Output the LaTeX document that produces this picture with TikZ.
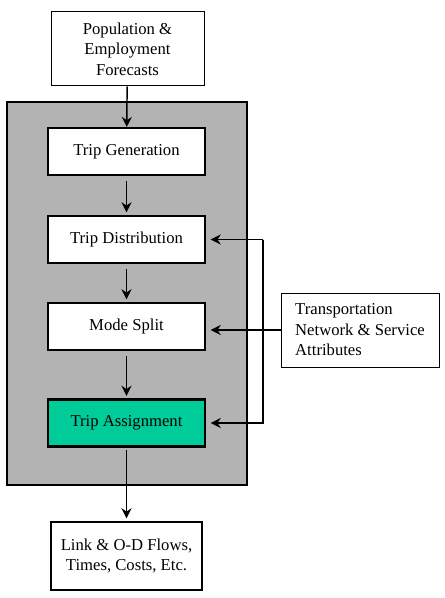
\documentclass[tikz,border=0pt]{standalone}
\usepackage{fontspec}
\setmainfont{Liberation Serif}
\usetikzlibrary{arrows.meta}
\definecolor{panelgray}{HTML}{B3B3B3}
\definecolor{assigngreen}{HTML}{00CC99}
\tikzset{
  inbox/.style={draw, line width=0.75pt, fill=white, inner sep=0pt, align=center},
  stepbox/.style={draw, line width=1.6pt, fill=white, inner sep=0pt, align=center,
    minimum width=117.75pt, minimum height=35.25pt},
  flow/.style={line width=1.1pt, -{Stealth[length=7.5pt,width=7.5pt,inset=2.5pt]}}
}
\begin{document}
\begin{tikzpicture}[x=0.75pt,y=-0.75pt,font=\fontsize{12.5}{15.4}\selectfont]
\useasboundingbox (0,0) rectangle (444,598);
\node (panel) at (127,293.5) [draw, line width=1.6pt, fill=panelgray, minimum width=180pt, minimum height=287.25pt]{};
\node (forecast) at (127.5,49) [inbox, minimum width=114.75pt, minimum height=55.5pt]{Population \&\\Employment\\Forecasts};
\node (gen) at (126.5,151.5) [stepbox]{Trip Generation};
\node (dist) at (126.5,239.5) [stepbox]{Trip Distribution};
\node (split) at (126.5,326.5) [stepbox]{Mode Split};
\node (assign) at (126.5,423) [stepbox, fill=assigngreen]{Trip Assignment};
\node (flows) at (126.5,556) [stepbox, minimum width=113.25pt, minimum height=51pt]{Link \& O-D Flows,\\Times, Costs, Etc.};
\node (network) at (360,330) [inbox, align=left, minimum width=118.5pt, minimum height=55.5pt]{Transportation\\Network \& Service\\Attributes};
\coordinate (bus) at (263,0);
\draw[flow] (forecast) -- (gen);
\draw[flow, shorten <=3.5pt, shorten >=2pt] (gen) -- (dist);
\draw[flow, shorten <=3.5pt, shorten >=2pt] (dist) -- (split);
\draw[flow, shorten <=3.5pt, shorten >=2pt] (split) -- (assign);
\draw[flow, shorten <=2pt, shorten >=2pt] (assign) -- (flows);
\draw[flow, shorten >=3.5pt] (bus |- dist.east) -- (dist.east);
\draw[flow, shorten >=3.5pt] (bus |- dist.east) -- (bus |- assign.east) -- (assign.east);
\draw[flow, shorten >=3.5pt] (network.west) -- (split.east |- network.west);
\end{tikzpicture}
\end{document}
